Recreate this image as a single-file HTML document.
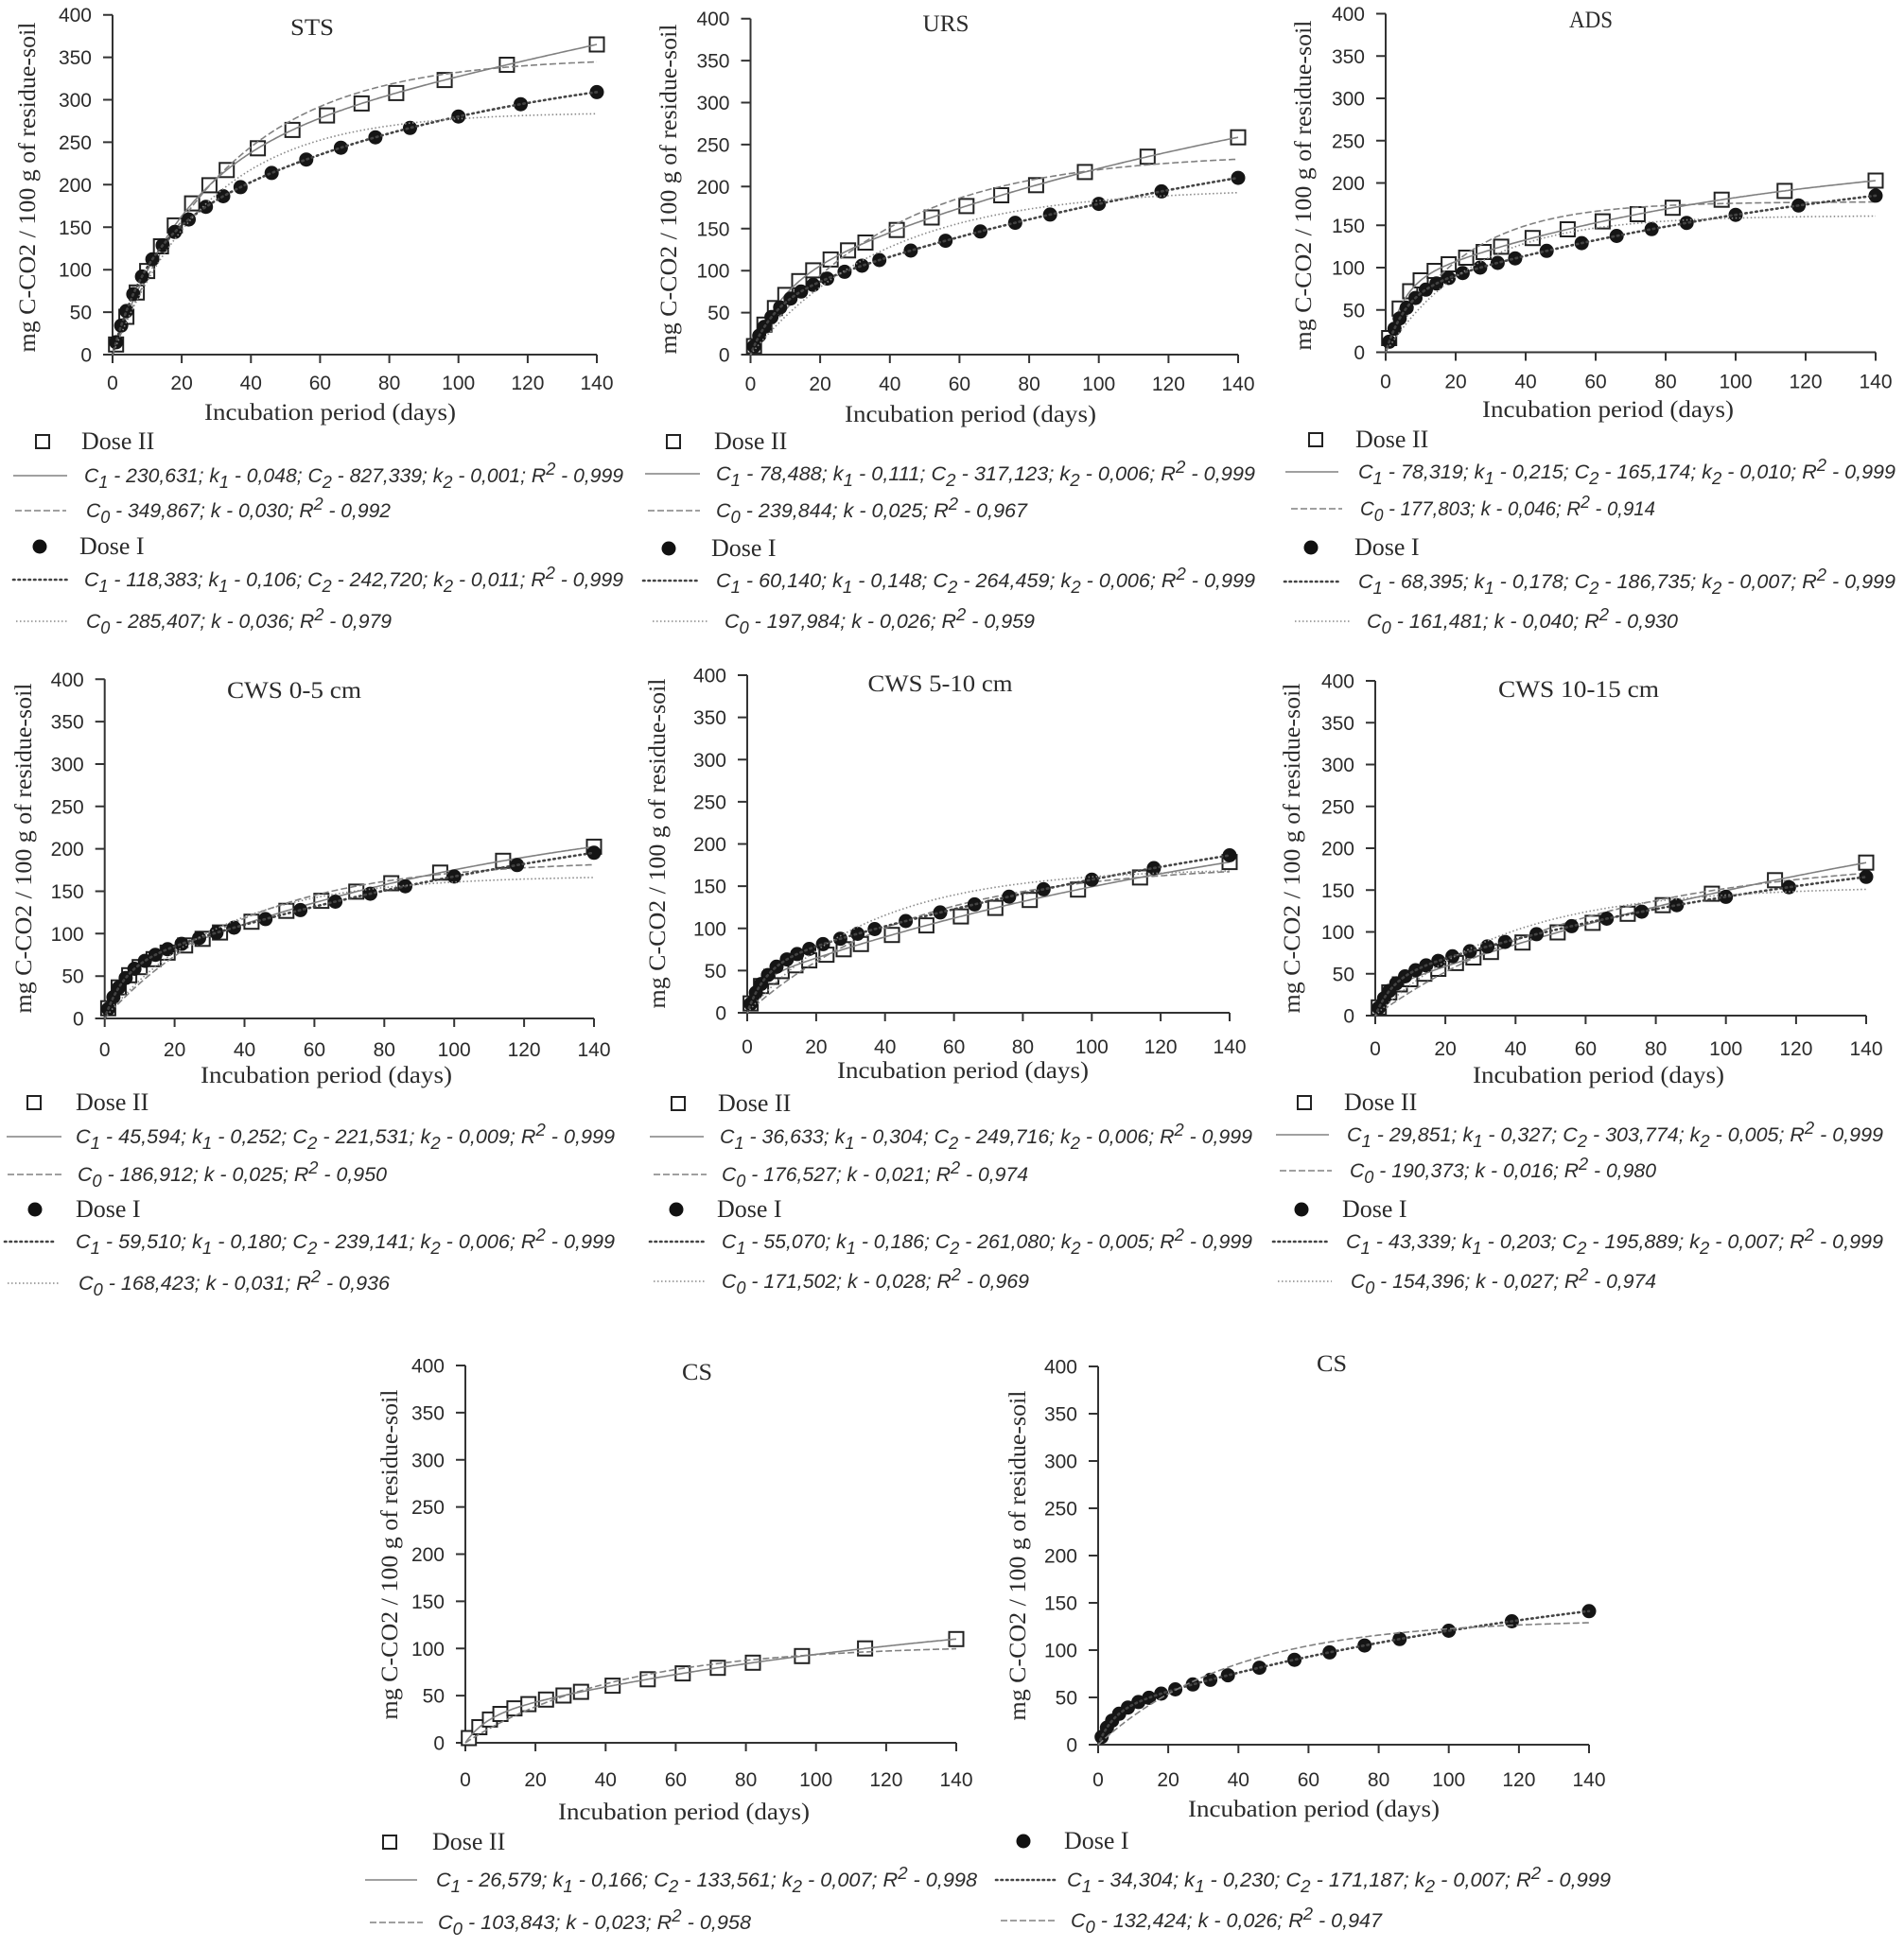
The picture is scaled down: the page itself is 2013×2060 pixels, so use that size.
<!DOCTYPE html>
<html><head><meta charset="utf-8">
<style>
body{margin:0;background:#fff}
svg{display:block}
.tk{font-family:"Liberation Sans",Arial,sans-serif;font-size:21px;fill:#2b2b2b}
.ser{font-family:"Liberation Serif","Times New Roman",serif;fill:#2b2b2b}
.ttl{font-size:25px}
.lab{font-size:25px}
.dl{font-family:"Liberation Serif","Times New Roman",serif;font-size:26px;fill:#2b2b2b}
.lp{font-family:"Liberation Sans",Arial,sans-serif;font-style:italic;font-size:21px;fill:#2b2b2b}
.s{font-size:18px}
.l1{stroke:#808080;stroke-width:1.6;fill:none}
.l2{stroke:#808080;stroke-width:1.6;fill:none;stroke-dasharray:7 3}
.l4{stroke:#444;stroke-width:2.6;fill:none;stroke-dasharray:1.5 4;stroke-linecap:round}
.l5{stroke:#888;stroke-width:1.6;fill:none;stroke-dasharray:1.5 2.5}
</style></head><body>
<svg id="c" xmlns="http://www.w3.org/2000/svg" width="2013" height="2060" viewBox="0 0 2013 2060">
<rect width="2013" height="2060" fill="#fff"/>
<g id="g"></g>

<!-- tick labels -->
<g id="p0"><g class="yt tk" text-anchor="end"><text>0</text><text>50</text><text>100</text><text>150</text><text>200</text><text>250</text><text>300</text><text>350</text><text>400</text></g><g class="xt tk" text-anchor="middle"><text>0</text><text>20</text><text>40</text><text>60</text><text>80</text><text>100</text><text>120</text><text>140</text></g></g>
<g id="p1"><g class="yt tk" text-anchor="end"><text>0</text><text>50</text><text>100</text><text>150</text><text>200</text><text>250</text><text>300</text><text>350</text><text>400</text></g><g class="xt tk" text-anchor="middle"><text>0</text><text>20</text><text>40</text><text>60</text><text>80</text><text>100</text><text>120</text><text>140</text></g></g>
<g id="p2"><g class="yt tk" text-anchor="end"><text>0</text><text>50</text><text>100</text><text>150</text><text>200</text><text>250</text><text>300</text><text>350</text><text>400</text></g><g class="xt tk" text-anchor="middle"><text>0</text><text>20</text><text>40</text><text>60</text><text>80</text><text>100</text><text>120</text><text>140</text></g></g>
<g id="p3"><g class="yt tk" text-anchor="end"><text>0</text><text>50</text><text>100</text><text>150</text><text>200</text><text>250</text><text>300</text><text>350</text><text>400</text></g><g class="xt tk" text-anchor="middle"><text>0</text><text>20</text><text>40</text><text>60</text><text>80</text><text>100</text><text>120</text><text>140</text></g></g>
<g id="p4"><g class="yt tk" text-anchor="end"><text>0</text><text>50</text><text>100</text><text>150</text><text>200</text><text>250</text><text>300</text><text>350</text><text>400</text></g><g class="xt tk" text-anchor="middle"><text>0</text><text>20</text><text>40</text><text>60</text><text>80</text><text>100</text><text>120</text><text>140</text></g></g>
<g id="p5"><g class="yt tk" text-anchor="end"><text>0</text><text>50</text><text>100</text><text>150</text><text>200</text><text>250</text><text>300</text><text>350</text><text>400</text></g><g class="xt tk" text-anchor="middle"><text>0</text><text>20</text><text>40</text><text>60</text><text>80</text><text>100</text><text>120</text><text>140</text></g></g>
<g id="p6"><g class="yt tk" text-anchor="end"><text>0</text><text>50</text><text>100</text><text>150</text><text>200</text><text>250</text><text>300</text><text>350</text><text>400</text></g><g class="xt tk" text-anchor="middle"><text>0</text><text>20</text><text>40</text><text>60</text><text>80</text><text>100</text><text>120</text><text>140</text></g></g>
<g id="p7"><g class="yt tk" text-anchor="end"><text>0</text><text>50</text><text>100</text><text>150</text><text>200</text><text>250</text><text>300</text><text>350</text><text>400</text></g><g class="xt tk" text-anchor="middle"><text>0</text><text>20</text><text>40</text><text>60</text><text>80</text><text>100</text><text>120</text><text>140</text></g></g>

<!-- titles -->
<g class="ser ttl" text-anchor="middle">
<text x="330" y="37" textLength="46" lengthAdjust="spacingAndGlyphs">STS</text>
<text x="1000" y="33" textLength="49" lengthAdjust="spacingAndGlyphs">URS</text>
<text x="1682" y="29" textLength="46" lengthAdjust="spacingAndGlyphs">ADS</text>
<text x="311" y="738" textLength="142" lengthAdjust="spacingAndGlyphs">CWS 0-5 cm</text>
<text x="994" y="731" textLength="153" lengthAdjust="spacingAndGlyphs">CWS 5-10 cm</text>
<text x="1669" y="737" textLength="170" lengthAdjust="spacingAndGlyphs">CWS 10-15 cm</text>
<text x="737" y="1459" textLength="32" lengthAdjust="spacingAndGlyphs">CS</text>
<text x="1408" y="1450" textLength="32" lengthAdjust="spacingAndGlyphs">CS</text>
</g>

<!-- y axis labels -->
<g class="ser lab" text-anchor="middle">
<text transform="translate(37,198) rotate(-90)" textLength="349" lengthAdjust="spacingAndGlyphs">mg C-CO2 / 100 g of residue-soil</text>
<text transform="translate(715,200) rotate(-90)" textLength="349" lengthAdjust="spacingAndGlyphs">mg C-CO2 / 100 g of residue-soil</text>
<text transform="translate(1386,196) rotate(-90)" textLength="349" lengthAdjust="spacingAndGlyphs">mg C-CO2 / 100 g of residue-soil</text>
<text transform="translate(33,897) rotate(-90)" textLength="349" lengthAdjust="spacingAndGlyphs">mg C-CO2 / 100 g of residue-soil</text>
<text transform="translate(703,892) rotate(-90)" textLength="349" lengthAdjust="spacingAndGlyphs">mg C-CO2 / 100 g of residue-soil</text>
<text transform="translate(1374,897) rotate(-90)" textLength="349" lengthAdjust="spacingAndGlyphs">mg C-CO2 / 100 g of residue-soil</text>
<text transform="translate(420,1644) rotate(-90)" textLength="349" lengthAdjust="spacingAndGlyphs">mg C-CO2 / 100 g of residue-soil</text>
<text transform="translate(1084,1645) rotate(-90)" textLength="349" lengthAdjust="spacingAndGlyphs">mg C-CO2 / 100 g of residue-soil</text>
</g>

<!-- x axis labels -->
<g class="ser lab" text-anchor="middle">
<text x="349" y="444" textLength="266" lengthAdjust="spacingAndGlyphs">Incubation period (days)</text>
<text x="1026" y="446" textLength="266" lengthAdjust="spacingAndGlyphs">Incubation period (days)</text>
<text x="1700" y="441" textLength="266" lengthAdjust="spacingAndGlyphs">Incubation period (days)</text>
<text x="345" y="1145" textLength="266" lengthAdjust="spacingAndGlyphs">Incubation period (days)</text>
<text x="1018" y="1140" textLength="266" lengthAdjust="spacingAndGlyphs">Incubation period (days)</text>
<text x="1690" y="1145" textLength="266" lengthAdjust="spacingAndGlyphs">Incubation period (days)</text>
<text x="723" y="1924" textLength="266" lengthAdjust="spacingAndGlyphs">Incubation period (days)</text>
<text x="1389" y="1921" textLength="266" lengthAdjust="spacingAndGlyphs">Incubation period (days)</text>
</g>

<!-- ===== Legends ===== -->
<!-- P1 -->
<rect x="38" y="460" width="14" height="14" fill="#fff" stroke="#222" stroke-width="2"/>
<text class="dl" x="86" y="475">Dose II</text>
<line class="l1" x1="14" y1="503" x2="71" y2="503"/>
<text class="lp" x="89" y="510" textLength="570" lengthAdjust="spacingAndGlyphs">C<tspan class="s" dy="6">1</tspan><tspan dy="-6"> - 230,631; k</tspan><tspan class="s" dy="6">1</tspan><tspan dy="-6"> - 0,048; C</tspan><tspan class="s" dy="6">2</tspan><tspan dy="-6"> - 827,339; k</tspan><tspan class="s" dy="6">2</tspan><tspan dy="-6"> - 0,001; R</tspan><tspan class="s" dy="-8">2</tspan><tspan dy="8"> - 0,999</tspan></text>
<line class="l2" x1="16" y1="540" x2="70" y2="540"/>
<text class="lp" x="91" y="547" textLength="322" lengthAdjust="spacingAndGlyphs">C<tspan class="s" dy="6">0</tspan><tspan dy="-6"> - 349,867; k - 0,030; R</tspan><tspan class="s" dy="-8">2</tspan><tspan dy="8"> - 0,992</tspan></text>
<circle cx="42" cy="578" r="7.5" fill="#111"/>
<text class="dl" x="84" y="586">Dose I</text>
<line class="l4" x1="14" y1="613" x2="71" y2="613"/>
<text class="lp" x="89" y="620" textLength="570" lengthAdjust="spacingAndGlyphs">C<tspan class="s" dy="6">1</tspan><tspan dy="-6"> - 118,383; k</tspan><tspan class="s" dy="6">1</tspan><tspan dy="-6"> - 0,106; C</tspan><tspan class="s" dy="6">2</tspan><tspan dy="-6"> - 242,720; k</tspan><tspan class="s" dy="6">2</tspan><tspan dy="-6"> - 0,011; R</tspan><tspan class="s" dy="-8">2</tspan><tspan dy="8"> - 0,999</tspan></text>
<line class="l5" x1="17" y1="657" x2="73" y2="657"/>
<text class="lp" x="91" y="664" textLength="323" lengthAdjust="spacingAndGlyphs">C<tspan class="s" dy="6">0</tspan><tspan dy="-6"> - 285,407; k - 0,036; R</tspan><tspan class="s" dy="-8">2</tspan><tspan dy="8"> - 0,979</tspan></text>

<!-- P2 -->
<rect x="705" y="460" width="14" height="14" fill="#fff" stroke="#222" stroke-width="2"/>
<text class="dl" x="755" y="475">Dose II</text>
<line class="l1" x1="682" y1="501" x2="740" y2="501"/>
<text class="lp" x="757" y="508" textLength="570" lengthAdjust="spacingAndGlyphs">C<tspan class="s" dy="6">1</tspan><tspan dy="-6"> - 78,488; k</tspan><tspan class="s" dy="6">1</tspan><tspan dy="-6"> - 0,111; C</tspan><tspan class="s" dy="6">2</tspan><tspan dy="-6"> - 317,123; k</tspan><tspan class="s" dy="6">2</tspan><tspan dy="-6"> - 0,006; R</tspan><tspan class="s" dy="-8">2</tspan><tspan dy="8"> - 0,999</tspan></text>
<line class="l2" x1="685" y1="540" x2="740" y2="540"/>
<text class="lp" x="757" y="547" textLength="329" lengthAdjust="spacingAndGlyphs">C<tspan class="s" dy="6">0</tspan><tspan dy="-6"> - 239,844; k - 0,025; R</tspan><tspan class="s" dy="-8">2</tspan><tspan dy="8"> - 0,967</tspan></text>
<circle cx="707" cy="580" r="7.5" fill="#111"/>
<text class="dl" x="752" y="588">Dose I</text>
<line class="l4" x1="680" y1="614" x2="738" y2="614"/>
<text class="lp" x="757" y="621" textLength="570" lengthAdjust="spacingAndGlyphs">C<tspan class="s" dy="6">1</tspan><tspan dy="-6"> - 60,140; k</tspan><tspan class="s" dy="6">1</tspan><tspan dy="-6"> - 0,148; C</tspan><tspan class="s" dy="6">2</tspan><tspan dy="-6"> - 264,459; k</tspan><tspan class="s" dy="6">2</tspan><tspan dy="-6"> - 0,006; R</tspan><tspan class="s" dy="-8">2</tspan><tspan dy="8"> - 0,999</tspan></text>
<line class="l5" x1="690" y1="657" x2="748" y2="657"/>
<text class="lp" x="766" y="664" textLength="328" lengthAdjust="spacingAndGlyphs">C<tspan class="s" dy="6">0</tspan><tspan dy="-6"> - 197,984; k - 0,026; R</tspan><tspan class="s" dy="-8">2</tspan><tspan dy="8"> - 0,959</tspan></text>

<!-- P3 -->
<rect x="1384" y="458" width="14" height="14" fill="#fff" stroke="#222" stroke-width="2"/>
<text class="dl" x="1433" y="473">Dose II</text>
<line class="l1" x1="1359" y1="499" x2="1415" y2="499"/>
<text class="lp" x="1436" y="506" textLength="568" lengthAdjust="spacingAndGlyphs">C<tspan class="s" dy="6">1</tspan><tspan dy="-6"> - 78,319; k</tspan><tspan class="s" dy="6">1</tspan><tspan dy="-6"> - 0,215; C</tspan><tspan class="s" dy="6">2</tspan><tspan dy="-6"> - 165,174; k</tspan><tspan class="s" dy="6">2</tspan><tspan dy="-6"> - 0,010; R</tspan><tspan class="s" dy="-8">2</tspan><tspan dy="8"> - 0,999</tspan></text>
<line class="l2" x1="1365" y1="538" x2="1419" y2="538"/>
<text class="lp" x="1438" y="545" textLength="312" lengthAdjust="spacingAndGlyphs">C<tspan class="s" dy="6">0</tspan><tspan dy="-6"> - 177,803; k - 0,046; R</tspan><tspan class="s" dy="-8">2</tspan><tspan dy="8"> - 0,914</tspan></text>
<circle cx="1386" cy="579" r="7.5" fill="#111"/>
<text class="dl" x="1432" y="587">Dose I</text>
<line class="l4" x1="1358" y1="615" x2="1417" y2="615"/>
<text class="lp" x="1436" y="622" textLength="568" lengthAdjust="spacingAndGlyphs">C<tspan class="s" dy="6">1</tspan><tspan dy="-6"> - 68,395; k</tspan><tspan class="s" dy="6">1</tspan><tspan dy="-6"> - 0,178; C</tspan><tspan class="s" dy="6">2</tspan><tspan dy="-6"> - 186,735; k</tspan><tspan class="s" dy="6">2</tspan><tspan dy="-6"> - 0,007; R</tspan><tspan class="s" dy="-8">2</tspan><tspan dy="8"> - 0,999</tspan></text>
<line class="l5" x1="1369" y1="657" x2="1428" y2="657"/>
<text class="lp" x="1445" y="664" textLength="329" lengthAdjust="spacingAndGlyphs">C<tspan class="s" dy="6">0</tspan><tspan dy="-6"> - 161,481; k - 0,040; R</tspan><tspan class="s" dy="-8">2</tspan><tspan dy="8"> - 0,930</tspan></text>

<!-- P4 -->
<rect x="29" y="1159" width="14" height="14" fill="#fff" stroke="#222" stroke-width="2"/>
<text class="dl" x="80" y="1174">Dose II</text>
<line class="l1" x1="7" y1="1202" x2="65" y2="1202"/>
<text class="lp" x="80" y="1209" textLength="570" lengthAdjust="spacingAndGlyphs">C<tspan class="s" dy="6">1</tspan><tspan dy="-6"> - 45,594; k</tspan><tspan class="s" dy="6">1</tspan><tspan dy="-6"> - 0,252; C</tspan><tspan class="s" dy="6">2</tspan><tspan dy="-6"> - 221,531; k</tspan><tspan class="s" dy="6">2</tspan><tspan dy="-6"> - 0,009; R</tspan><tspan class="s" dy="-8">2</tspan><tspan dy="8"> - 0,999</tspan></text>
<line class="l2" x1="8" y1="1242" x2="67" y2="1242"/>
<text class="lp" x="82" y="1249" textLength="327" lengthAdjust="spacingAndGlyphs">C<tspan class="s" dy="6">0</tspan><tspan dy="-6"> - 186,912; k - 0,025; R</tspan><tspan class="s" dy="-8">2</tspan><tspan dy="8"> - 0,950</tspan></text>
<circle cx="37" cy="1279" r="7.5" fill="#111"/>
<text class="dl" x="80" y="1287">Dose I</text>
<line class="l4" x1="5" y1="1313" x2="60" y2="1313"/>
<text class="lp" x="80" y="1320" textLength="570" lengthAdjust="spacingAndGlyphs">C<tspan class="s" dy="6">1</tspan><tspan dy="-6"> - 59,510; k</tspan><tspan class="s" dy="6">1</tspan><tspan dy="-6"> - 0,180; C</tspan><tspan class="s" dy="6">2</tspan><tspan dy="-6"> - 239,141; k</tspan><tspan class="s" dy="6">2</tspan><tspan dy="-6"> - 0,006; R</tspan><tspan class="s" dy="-8">2</tspan><tspan dy="8"> - 0,999</tspan></text>
<line class="l5" x1="8" y1="1357" x2="63" y2="1357"/>
<text class="lp" x="83" y="1364" textLength="329" lengthAdjust="spacingAndGlyphs">C<tspan class="s" dy="6">0</tspan><tspan dy="-6"> - 168,423; k - 0,031; R</tspan><tspan class="s" dy="-8">2</tspan><tspan dy="8"> - 0,936</tspan></text>

<!-- P5 -->
<rect x="710" y="1160" width="14" height="14" fill="#fff" stroke="#222" stroke-width="2"/>
<text class="dl" x="759" y="1175">Dose II</text>
<line class="l1" x1="687" y1="1202" x2="744" y2="1202"/>
<text class="lp" x="761" y="1209" textLength="563" lengthAdjust="spacingAndGlyphs">C<tspan class="s" dy="6">1</tspan><tspan dy="-6"> - 36,633; k</tspan><tspan class="s" dy="6">1</tspan><tspan dy="-6"> - 0,304; C</tspan><tspan class="s" dy="6">2</tspan><tspan dy="-6"> - 249,716; k</tspan><tspan class="s" dy="6">2</tspan><tspan dy="-6"> - 0,006; R</tspan><tspan class="s" dy="-8">2</tspan><tspan dy="8"> - 0,999</tspan></text>
<line class="l2" x1="691" y1="1242" x2="747" y2="1242"/>
<text class="lp" x="763" y="1249" textLength="324" lengthAdjust="spacingAndGlyphs">C<tspan class="s" dy="6">0</tspan><tspan dy="-6"> - 176,527; k - 0,021; R</tspan><tspan class="s" dy="-8">2</tspan><tspan dy="8"> - 0,974</tspan></text>
<circle cx="715" cy="1279" r="7.5" fill="#111"/>
<text class="dl" x="758" y="1287">Dose I</text>
<line class="l4" x1="687" y1="1313" x2="744" y2="1313"/>
<text class="lp" x="763" y="1320" textLength="561" lengthAdjust="spacingAndGlyphs">C<tspan class="s" dy="6">1</tspan><tspan dy="-6"> - 55,070; k</tspan><tspan class="s" dy="6">1</tspan><tspan dy="-6"> - 0,186; C</tspan><tspan class="s" dy="6">2</tspan><tspan dy="-6"> - 261,080; k</tspan><tspan class="s" dy="6">2</tspan><tspan dy="-6"> - 0,005; R</tspan><tspan class="s" dy="-8">2</tspan><tspan dy="8"> - 0,999</tspan></text>
<line class="l5" x1="691" y1="1355" x2="747" y2="1355"/>
<text class="lp" x="763" y="1362" textLength="325" lengthAdjust="spacingAndGlyphs">C<tspan class="s" dy="6">0</tspan><tspan dy="-6"> - 171,502; k - 0,028; R</tspan><tspan class="s" dy="-8">2</tspan><tspan dy="8"> - 0,969</tspan></text>

<!-- P6 -->
<rect x="1372" y="1159" width="14" height="14" fill="#fff" stroke="#222" stroke-width="2"/>
<text class="dl" x="1421" y="1174">Dose II</text>
<line class="l1" x1="1349" y1="1200" x2="1405" y2="1200"/>
<text class="lp" x="1424" y="1207" textLength="567" lengthAdjust="spacingAndGlyphs">C<tspan class="s" dy="6">1</tspan><tspan dy="-6"> - 29,851; k</tspan><tspan class="s" dy="6">1</tspan><tspan dy="-6"> - 0,327; C</tspan><tspan class="s" dy="6">2</tspan><tspan dy="-6"> - 303,774; k</tspan><tspan class="s" dy="6">2</tspan><tspan dy="-6"> - 0,005; R</tspan><tspan class="s" dy="-8">2</tspan><tspan dy="8"> - 0,999</tspan></text>
<line class="l2" x1="1353" y1="1238" x2="1408" y2="1238"/>
<text class="lp" x="1427" y="1245" textLength="324" lengthAdjust="spacingAndGlyphs">C<tspan class="s" dy="6">0</tspan><tspan dy="-6"> - 190,373; k - 0,016; R</tspan><tspan class="s" dy="-8">2</tspan><tspan dy="8"> - 0,980</tspan></text>
<circle cx="1376" cy="1279" r="7.5" fill="#111"/>
<text class="dl" x="1419" y="1287">Dose I</text>
<line class="l4" x1="1346" y1="1313" x2="1403" y2="1313"/>
<text class="lp" x="1423" y="1320" textLength="568" lengthAdjust="spacingAndGlyphs">C<tspan class="s" dy="6">1</tspan><tspan dy="-6"> - 43,339; k</tspan><tspan class="s" dy="6">1</tspan><tspan dy="-6"> - 0,203; C</tspan><tspan class="s" dy="6">2</tspan><tspan dy="-6"> - 195,889; k</tspan><tspan class="s" dy="6">2</tspan><tspan dy="-6"> - 0,007; R</tspan><tspan class="s" dy="-8">2</tspan><tspan dy="8"> - 0,999</tspan></text>
<line class="l5" x1="1351" y1="1355" x2="1408" y2="1355"/>
<text class="lp" x="1428" y="1362" textLength="323" lengthAdjust="spacingAndGlyphs">C<tspan class="s" dy="6">0</tspan><tspan dy="-6"> - 154,396; k - 0,027; R</tspan><tspan class="s" dy="-8">2</tspan><tspan dy="8"> - 0,974</tspan></text>

<!-- P7 -->
<rect x="405" y="1941" width="14" height="14" fill="#fff" stroke="#222" stroke-width="2"/>
<text class="dl" x="457" y="1956">Dose II</text>
<line class="l1" x1="386" y1="1988" x2="441" y2="1988"/>
<text class="lp" x="461" y="1995" textLength="572" lengthAdjust="spacingAndGlyphs">C<tspan class="s" dy="6">1</tspan><tspan dy="-6"> - 26,579; k</tspan><tspan class="s" dy="6">1</tspan><tspan dy="-6"> - 0,166; C</tspan><tspan class="s" dy="6">2</tspan><tspan dy="-6"> - 133,561; k</tspan><tspan class="s" dy="6">2</tspan><tspan dy="-6"> - 0,007; R</tspan><tspan class="s" dy="-8">2</tspan><tspan dy="8"> - 0,998</tspan></text>
<line class="l2" x1="391" y1="2033" x2="447" y2="2033"/>
<text class="lp" x="463" y="2040" textLength="331" lengthAdjust="spacingAndGlyphs">C<tspan class="s" dy="6">0</tspan><tspan dy="-6"> - 103,843; k - 0,023; R</tspan><tspan class="s" dy="-8">2</tspan><tspan dy="8"> - 0,958</tspan></text>

<!-- P8 -->
<circle cx="1082" cy="1947" r="7.5" fill="#111"/>
<text class="dl" x="1125" y="1955">Dose I</text>
<line class="l4" x1="1053" y1="1988" x2="1115" y2="1988"/>
<text class="lp" x="1128" y="1995" textLength="575" lengthAdjust="spacingAndGlyphs">C<tspan class="s" dy="6">1</tspan><tspan dy="-6"> - 34,304; k</tspan><tspan class="s" dy="6">1</tspan><tspan dy="-6"> - 0,230; C</tspan><tspan class="s" dy="6">2</tspan><tspan dy="-6"> - 171,187; k</tspan><tspan class="s" dy="6">2</tspan><tspan dy="-6"> - 0,007; R</tspan><tspan class="s" dy="-8">2</tspan><tspan dy="8"> - 0,999</tspan></text>
<line class="l2" x1="1058" y1="2031" x2="1118" y2="2031"/>
<text class="lp" x="1132" y="2038" textLength="329" lengthAdjust="spacingAndGlyphs">C<tspan class="s" dy="6">0</tspan><tspan dy="-6"> - 132,424; k - 0,026; R</tspan><tspan class="s" dy="-8">2</tspan><tspan dy="8"> - 0,947</tspan></text>
</svg>
<script>
(function(){
var NS='http://www.w3.org/2000/svg';
var G=document.getElementById('g');
function el(tag,a){var e=document.createElementNS(NS,tag);for(var k in a)e.setAttribute(k,a[k]);G.appendChild(e);return e;}
var P=[
{ax:119,x1:631,y0:375,y1:15.7,xo:37,II:[[230.631,0.048,827.339,0.00127],[349.867,0.030]],I:[[118.383,0.106,242.720,0.011],[285.407,0.036]]},
{ax:793.5,x1:1309,y0:375,y1:19.7,xo:38,II:[[78.488,0.111,317.123,0.006],[239.844,0.025]],I:[[60.140,0.148,264.459,0.006],[197.984,0.026]]},
{ax:1465,x1:1983,y0:372.5,y1:14.5,xo:38,II:[[78.319,0.215,165.174,0.010],[177.803,0.046]],I:[[68.395,0.178,186.735,0.007],[161.481,0.040]]},
{ax:110.7,x1:628,y0:1077,y1:718.3,xo:40,II:[[45.594,0.252,221.531,0.0088],[186.912,0.025]],I:[[59.510,0.180,239.141,0.006],[168.423,0.031]]},
{ax:790,x1:1300,y0:1071,y1:714,xo:43,II:[[36.633,0.304,249.716,0.006],[176.527,0.021]],I:[[55.070,0.186,261.080,0.005],[171.502,0.028]]},
{ax:1454,x1:1973,y0:1074,y1:720,xo:42,II:[[29.851,0.327,303.774,0.005],[190.373,0.016]],I:[[43.339,0.203,195.889,0.007],[154.396,0.027]]},
{ax:492,x1:1011,y0:1843,y1:1444,xo:46,II:[[26.579,0.166,133.561,0.007],[103.843,0.023]]},
{ax:1161,x1:1680,y0:1845,y1:1445,xo:44,I:[[34.304,0.230,171.187,0.007],[132.424,0.026]]}
];
var D2=[1,4,7,10,14,18,23,28,33,42,52,62,72,82,96,114,140];
var D1=[1,2.5,4,6,8.5,11.5,14.5,18,22,27,32,37,46,56,66,76,86,100,118,140];
P.forEach(function(p,i){
  var X=function(d){return p.ax+d*(p.x1-p.ax)/140;};
  var Y=function(v){return p.y0-v*(p.y0-p.y1)/400;};
  var dexp=function(a){return function(t){return a[0]*(1-Math.exp(-a[1]*t))+a[2]*(1-Math.exp(-a[3]*t));};};
  var sexp=function(a){return function(t){return a[0]*(1-Math.exp(-a[1]*t));};};
  var path=function(f){var s='';for(var t=0;t<=140.001;t+=0.5){s+=(t?'L':'M')+X(t).toFixed(1)+' '+Y(f(t)).toFixed(1);}return s;};
  el('path',{d:'M'+p.ax+' '+p.y1+'V'+p.y0+'M'+(p.ax-10)+' '+p.y0+'H'+p.x1,stroke:'#333','stroke-width':2,fill:'none'});
  var tk='';
  for(var j=0;j<=8;j++){tk+='M'+(p.ax-10)+' '+Y(50*j).toFixed(1)+'H'+p.ax;}
  for(j=0;j<=7;j++){tk+='M'+X(20*j).toFixed(1)+' '+p.y0+'V'+(p.y0+9);}
  el('path',{d:tk,stroke:'#333','stroke-width':2,fill:'none'});
  var g=document.getElementById('p'+i);
  var yt=g.querySelectorAll('.yt text');
  for(j=0;j<yt.length;j++){yt[j].setAttribute('x',p.ax-22);yt[j].setAttribute('y',(Y(50*j)+7.5).toFixed(1));}
  var xt=g.querySelectorAll('.xt text');
  for(j=0;j<xt.length;j++){xt[j].setAttribute('x',X(20*j).toFixed(1));xt[j].setAttribute('y',p.y0+p.xo);}
  if(p.II){
    var f2=dexp(p.II[0]);
    D2.forEach(function(d){var x=X(d),y=Y(f2(d));el('rect',{x:(x-7.5).toFixed(1),y:(y-7.5).toFixed(1),width:15,height:15,fill:'#fff',stroke:'#222','stroke-width':2});});
    el('path',{d:path(f2),'class':'l1'});
    el('path',{d:path(sexp(p.II[1])),'class':'l2'});
  }
  if(p.I){
    var f1=dexp(p.I[0]);
    D1.forEach(function(d){el('circle',{cx:X(d).toFixed(1),cy:Y(f1(d)).toFixed(1),r:7.5,fill:'#151515'});});
    el('path',{d:path(f1),'class':'l4'});
    el('path',{d:path(sexp(p.I[1])),'class':i==7?'l2':'l5'});
  }
});
})();
</script>
</body></html>
